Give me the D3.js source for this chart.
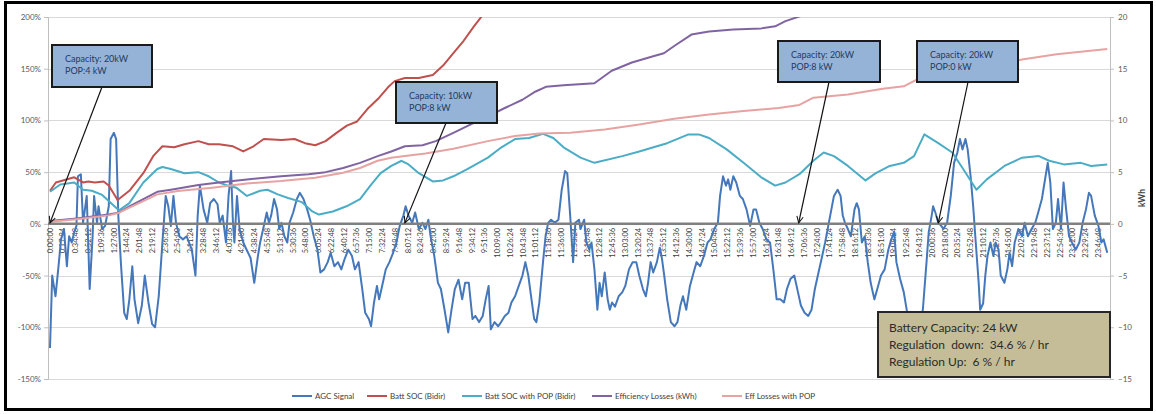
<!DOCTYPE html>
<html><head><meta charset="utf-8">
<script src="https://cdn.jsdelivr.net/npm/d3@7"></script>
<style>
body{margin:0;background:#fff}
svg{display:block}
text{font-family:Lato,"Liberation Sans",Arial,sans-serif}
</style>
</head><body>
<svg id="c" width="1156" height="414"></svg>
<script>
// ---------- DATA ----------
const timeLabels = ["0:00:00","0:17:24","0:34:48","0:52:12","1:09:36","1:27:00","1:44:24","2:01:48","2:19:12","2:36:36","2:54:00","3:11:24","3:28:48","3:46:12","4:03:36","4:21:00","4:38:24","4:55:48","5:13:12","5:30:36","5:48:00","6:05:24","6:22:48","6:40:12","6:57:36","7:15:00","7:32:24","7:49:48","8:07:12","8:24:36","8:42:00","8:59:24","9:16:48","9:34:12","9:51:36","10:09:00","10:26:24","10:43:48","11:01:12","11:18:36","11:36:00","11:53:24","12:10:48","12:28:12","12:45:36","13:03:00","13:20:24","13:37:48","13:55:12","14:12:36","14:30:00","14:47:24","15:04:48","15:22:12","15:39:36","15:57:00","16:14:24","16:31:48","16:49:12","17:06:36","17:24:00","17:41:24","17:58:48","18:16:12","18:33:36","18:51:00","19:08:24","19:25:48","19:43:12","20:00:36","20:18:00","20:35:24","20:52:48","21:10:12","21:27:36","21:45:00","22:02:24","22:19:48","22:37:12","22:54:36","23:12:00","23:29:24","23:46:48"];

const leftTicks = [-150,-100,-50,0,50,100,150,200];
const rightTicks = [-15,-10,-5,0,5,10,15,20];

// [minute of day, value]
const agcSignal = [[0,-120],[3,-50],[7.5,-70],[12,-38],[15,-15],[19,-5],[23,-41],[26,-12],[29.5,-18],[33,-8],[36,-2],[38,46],[42,48],[45,1],[50,27],[54,-63],[58,-12],[60,27],[64,1],[66,17],[71,-5],[75,-2],[80,17],[82.5,82],[87,88],[90,82],[93,8],[96.5,-38],[101,-86],[104.5,-92],[108,-73],[112,-41],[115,-73],[120,-96],[125,-79],[129,-50],[134,-76],[139,-97],[143,-100],[148,-70],[153,-18],[157.5,27],[161,17],[164.5,-2],[168,27],[171.5,1],[176,-12],[181,-15],[186,-12],[193,-25],[198,-50],[201,8],[204,37],[209,14],[214,1],[218,20],[223,24],[228,19],[231,1],[235,8],[239.5,-18],[243,27],[246.5,51],[249,1],[251,-18],[254.5,27],[258,-5],[263,-18],[267.6,-25],[273,-33],[278,-57],[283,-31],[286,-18],[291,-2],[295,11],[298,1],[301,8],[305,24],[309,14],[312,-5],[315,1],[319,-12],[323,-18],[326,1],[331,11],[336,24],[340,30],[345,24],[350,14],[354,4],[359,-12],[364,-25],[368,-47],[373,-44],[378,-37],[382,-28],[387,-41],[392,-37],[396.5,-44],[401,-34],[406,-25],[411,-31],[415,-44],[420,-37],[425,-63],[429,-86],[434,-92],[437,-99],[441,-76],[445,-60],[448,-73],[453,-57],[457,-44],[462,-37],[467,-28],[471.5,-18],[476,-2],[481,8],[484,17],[488,8],[493,1],[497,11],[502,-5],[507,1],[511,-5],[515,4],[518,-12],[523,-31],[528,-57],[532,-63],[537,-83],[542,-105],[546.5,-83],[551,-63],[556,-54],[561,-73],[565,-57],[570,-57],[575,-92],[579,-89],[584,-95],[589,-89],[593,-73],[597,-60],[600,-102],[605,-95],[610,-99],[614,-95],[619,-89],[624,-86],[628,-76],[633,-70],[638,-60],[643,-50],[647,-37],[651,-50],[654,-66],[659,-92],[662,-95],[666,-76],[671,-37],[674.5,-12],[678,1],[682,4],[687,1],[692,4],[696.5,33],[701,51],[704,49],[708,8],[712,-37],[715,1],[720,4],[722,-5],[727,4],[730,-18],[734,-25],[737,-18],[741,-44],[745,-83],[748,-57],[751,-70],[755,-47],[759,-73],[762,-83],[765,-76],[769,-80],[774,-70],[779,-66],[783,-60],[788,-44],[793,-37],[798,-37],[802,-50],[807,-63],[811,-70],[814,-57],[817.5,-37],[821,-47],[826,-37],[830,-23],[833,-34],[836,-50],[840,-73],[845,-95],[850,-99],[854,-95],[858,-79],[861.5,-70],[866,-83],[871,-60],[876,-47],[880,-37],[885,-41],[890,-31],[895,-18],[899,-15],[904,-5],[909,1],[912,27],[916,46],[920,37],[923,43],[926,33],[930,46],[934,40],[939,27],[943,24],[948,14],[953,-2],[957.5,14],[961,14],[965.5,1],[970,-5],[975,-15],[980,-18],[984.5,-44],[989,-73],[994,-73],[999,-76],[1003,-63],[1008,-53],[1013,-50],[1018,-66],[1022,-79],[1027,-86],[1032,-89],[1036.5,-83],[1041,-63],[1046,-47],[1051,-31],[1055,-18],[1060,1],[1063.5,14],[1067,27],[1072,33],[1076,27],[1079,8],[1082,1],[1086,-5],[1090,-12],[1095,14],[1098,20],[1101,14],[1105,-18],[1109,-12],[1113,-37],[1117,-57],[1122,-73],[1126,-63],[1131,-50],[1136,-44],[1141,-25],[1145,-15],[1149,-8],[1152,-37],[1157,-53],[1162,-66],[1166,-83],[1169,-100],[1176,-115],[1181,-110],[1188,-83],[1193,-37],[1196,-8],[1200,8],[1202,17],[1205,11],[1209,1],[1213,-2],[1216,-5],[1221,1],[1226,27],[1230.5,59],[1235,69],[1238.5,82],[1242,72],[1246,82],[1249,72],[1253,46],[1256.5,17],[1260,-18],[1264,-57],[1266,-83],[1270,-77],[1273,-50],[1276,-31],[1280,-18],[1284,-31],[1287,-18],[1291,-25],[1294,-50],[1299,-57],[1303,-44],[1306,-28],[1309.5,-41],[1313,-18],[1318,-5],[1323,-12],[1326.5,1],[1331,-12],[1336,-5],[1341,1],[1345,11],[1350,24],[1355,46],[1358,59],[1361.5,40],[1365,-5],[1369,1],[1372,24],[1376,-5],[1379.5,40],[1383,14],[1387,-12],[1391,-18],[1396,-25],[1401,-18],[1405.5,1],[1410,14],[1414,30],[1417,27],[1422,8],[1427,-2],[1431,-18],[1434,-15],[1439,-28]];

const battSoc = [[0,32],[8,40],[33,45],[45,40],[52,41],[61,40],[73,41],[80,37],[92,23],[108,32],[127,49],[141,66],[153,75],[169,74],[183,77],[202,80],[216,77],[230,77],[249,75],[263,70],[277,75],[291,82],[315,81],[333,82],[347,78],[361,76],[375,80],[390,88],[404,95],[418,99],[432,111],[448,122],[460,132],[469,138],[483,141],[502,141],[521,144],[535,153],[549,165],[563,177],[577,191],[589,202],[600,215]];

const battSocPop = [[0,31],[14,38],[33,40],[45,33],[57,32],[71,28],[80,22],[94,13],[108,20],[127,40],[146,53],[153,55],[164.5,53],[183,49],[202,50],[216,46],[230,40],[242,37],[253.5,35],[268,27],[286,32],[296,33],[310,28.5],[324,25],[343,21],[357,12],[366,9],[385,12],[403.5,17],[422,24],[436,37],[450,49],[464.5,56],[478.5,61],[488,57.5],[502,49],[521,41],[535,42],[549,46],[568,53],[596,64],[614.5,74],[633,82],[652,83],[671,87],[685,83],[699,74],[708,70],[722,64],[741,59],[779,65.5],[802,70],[826,75],[840,78],[869,86.5],[883,86.5],[897,83],[921,72],[944,59],[968,45],[987,37],[1001,40],[1020,48],[1039,61],[1053,69],[1067,65.5],[1086,56],[1110,42],[1124,49],[1143,56],[1162,59],[1176,65.5],[1190,86.5],[1209,78],[1228,69],[1242,54],[1261,33],[1275,43],[1299,56],[1323,64],[1346,65.5],[1360,61],[1380,57.5],[1403,59],[1417,56],[1439,57.5]];

const effLosses = [[0,0.27],[33,0.5],[80,0.9],[94,1.1],[108,1.7],[127,2.4],[146,3.1],[164.5,3.3],[202,3.75],[230,4.0],[268,4.3],[314.5,4.6],[352,4.8],[375,5.0],[399,5.4],[422,5.9],[446,6.55],[464.5,7.0],[483,7.5],[507,7.6],[525,8.0],[549,8.8],[572,9.6],[596,10.4],[619,11.2],[643,12.0],[661,12.8],[675,13.25],[699,13.4],[741,13.6],[764.5,14.8],[792,15.6],[821,16.2],[835.5,16.5],[849.6,17.2],[873,18.3],[897,18.6],[930,18.8],[968,18.9],[987,19.1],[1001,19.6],[1022,20.1],[1035,20.5]];

const effLossesPop = [[0,0.2],[33,0.43],[80,0.82],[94,1.08],[108,1.56],[127,2.2],[146,2.85],[174,3.17],[221,3.5],[268,3.9],[314.5,4.14],[361,4.46],[399,4.94],[422,5.4],[446,6.1],[464.5,6.4],[483,6.55],[511,6.8],[549,7.26],[596,8.0],[633,8.5],[666,8.74],[708,8.8],[755,9.13],[802,9.6],[849.6,10.16],[897,10.58],[944,10.9],[991.6,11.2],[1020,11.5],[1039,12.2],[1086,12.5],[1133.5,13.06],[1162,13.3],[1181,14.0],[1228,14.4],[1275,15.1],[1323,15.9],[1370,16.4],[1439,16.9]];

const seriesNames = ["AGC Signal","Batt SOC (Bidir)","Batt SOC with POP (Bidir)","Efficiency Losses (kWh)","Eff Losses with POP"];
const seriesColors = ["#4577bb","#c0504d","#4bacc6","#8064a2","#e6a3a2"];

const callouts = [
  {lines:["Capacity: 20kW","POP:4 kW"], target:0},
  {lines:["Capacity: 10kW","POP:8 kW"], target:483},
  {lines:["Capacity: 20kW","POP:8 kW"], target:1019},
  {lines:["Capacity: 20kW","POP:0 kW"], target:1209}
];
const infoLines = ["Battery Capacity: 24 kW","Regulation  down:  34.6 % / hr","Regulation Up:  6 % / hr"];
const rightAxisTitle = "kWh";

// ---------- CHART ----------
const svg = d3.select("#c");
const L = 48, R = 1110, T = 17, B = 379;
const x = d3.scaleLinear().domain([0,1440]).range([50,1108]);
const yL = d3.scaleLinear().domain([-150,200]).range([B,T]);
const yR = d3.scaleLinear().domain([-15,20]).range([B,T]);

svg.append("defs").append("clipPath").attr("id","plot")
  .append("rect").attr("x",L).attr("y",T).attr("width",R-L).attr("height",B-T);
const mk = svg.select("defs").append("marker").attr("id","arr")
  .attr("viewBox","0 0 10 10").attr("refX",9).attr("refY",5)
  .attr("markerWidth",8).attr("markerHeight",8).attr("orient","auto-start-reverse")
  .attr("markerUnits","userSpaceOnUse");
mk.append("path").attr("d","M1,1 L9,5 L1,9").attr("fill","none").attr("stroke","#111").attr("stroke-width",1.3);

// gridlines
svg.append("g").selectAll("line").data(leftTicks.filter(d=>d!==0)).join("line")
  .attr("x1",L).attr("x2",R).attr("y1",d=>Math.round(yL(d))+0.5).attr("y2",d=>Math.round(yL(d))+0.5)
  .attr("stroke","#d9d9d9").attr("stroke-width",1);

// axes
const ga = svg.append("g").attr("transform",`translate(${L},0)`)
  .call(d3.axisLeft(yL).tickValues(leftTicks).tickFormat(d=>d+"%").tickSize(4).tickPadding(3));
const gb = svg.append("g").attr("transform",`translate(${R},0)`)
  .call(d3.axisRight(yR).tickValues(rightTicks).tickSize(4).tickPadding(4));
[ga,gb].forEach(g=>{
  g.select(".domain").attr("stroke","#bfbfbf");
  g.selectAll(".tick line").attr("stroke","#bfbfbf");
  g.selectAll(".tick text").attr("fill","#595959").style("font-size","8px").style("font-family","Lato, sans-serif");
});
svg.append("text").attr("transform",`translate(1142,${yR(2.5)}) rotate(-90)`)
  .attr("text-anchor","middle").attr("dy","0.35em").attr("fill","#404040")
  .style("font-size","8.5px").style("font-weight","bold").text(rightAxisTitle);

// category labels
const toMin = s => { const p = s.split(":").map(Number); return p[0]*60+p[1]+p[2]/60; };
svg.append("g").selectAll("text").data(timeLabels).join("text")
  .attr("transform",d=>`translate(${x(toMin(d))},${yL(0)+4}) rotate(-90)`)
  .attr("text-anchor","end").attr("dy","0.35em")
  .attr("fill","#404040").style("font-size","7.5px").text(d=>d);

// series
const plot = svg.append("g").attr("clip-path","url(#plot)");
const lineL = d3.line().x(d=>x(d[0])).y(d=>yL(d[1]));
const lineR = d3.line().x(d=>x(d[0])).y(d=>yR(d[1]));
const sets = [[agcSignal,lineL],[battSoc,lineL],[battSocPop,lineL],[effLosses,lineR],[effLossesPop,lineR]];
sets.forEach(([data,gen],i)=>{
  plot.append("path").datum(data).attr("d",gen).attr("fill","none")
    .attr("stroke",seriesColors[i]).attr("stroke-width",i===0?2:2)
    .attr("stroke-linejoin","round");
});

// zero axis
svg.append("line").attr("x1",L).attr("x2",R).attr("y1",yL(0)).attr("y2",yL(0))
  .attr("stroke","#808080").attr("stroke-width",2.5);

// callouts
const boxes = [[52,45,100,42,102,87],[396,82,101,41,446,123],[778,41,102,41,829,82],[917,41,101,41,968,82]];
callouts.forEach((c,i)=>{
  const [bx,by,bw,bh,ax,ay] = boxes[i];
  svg.append("line").attr("x1",ax).attr("y1",ay).attr("x2",x(c.target)).attr("y2",yL(0)-1)
    .attr("stroke","#111").attr("stroke-width",1.2).attr("marker-end","url(#arr)");
  svg.append("rect").attr("x",bx).attr("y",by).attr("width",bw).attr("height",bh)
    .attr("fill","#95b3d7").attr("stroke","#1a1a1a").attr("stroke-width",2);
  c.lines.forEach((t,j)=>{
    svg.append("text").attr("x",bx+13).attr("y",by+17+j*12).attr("fill","#1f3a5f")
      .style("font-size","9px").text(t);
  });
});

// info box
svg.append("rect").attr("x",878).attr("y",312).attr("width",232).attr("height",65)
  .attr("fill","#c4bd97").attr("stroke","#262626").attr("stroke-width",2);
infoLines.forEach((t,j)=>{
  svg.append("text").attr("x",889).attr("y",332+j*17).attr("fill","#2b2b2b")
    .style("font-size","12px").style("white-space","pre").text(t);
});

// legend
const legX = [292,367,462,592,722];
const lg = svg.append("g");
seriesNames.forEach((n,i)=>{
  lg.append("line").attr("x1",legX[i]).attr("x2",legX[i]+20).attr("y1",396).attr("y2",396)
    .attr("stroke",seriesColors[i]).attr("stroke-width",2);
  lg.append("text").attr("x",legX[i]+23).attr("y",396).attr("dy","0.35em")
    .attr("fill","#404040").style("font-size","8px").text(n);
});

// outer frame
svg.append("rect").attr("x",5.5).attr("y",2.5).attr("width",1146).attr("height",407)
  .attr("fill","none").attr("stroke","#000").attr("stroke-width",3);
</script>
</body></html>
